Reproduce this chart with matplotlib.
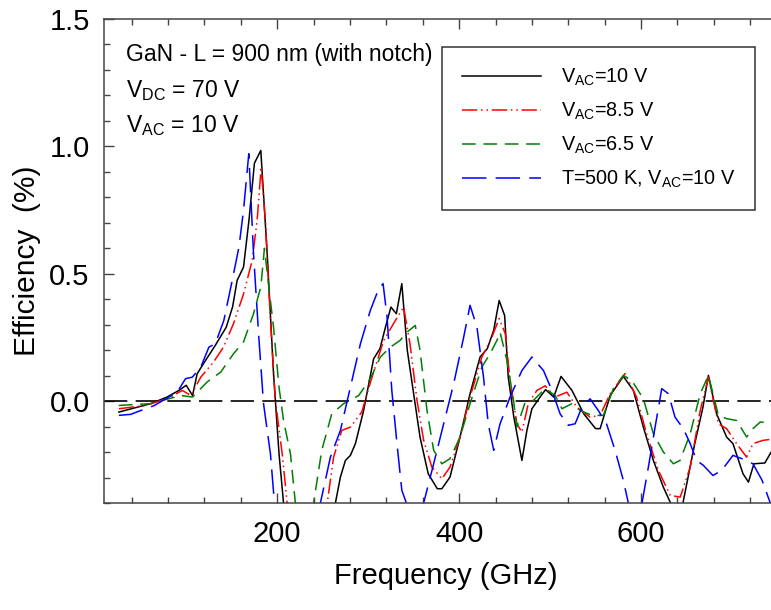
import matplotlib
matplotlib.use("Agg")
import matplotlib.pyplot as plt
from matplotlib.ticker import MultipleLocator

plt.rcParams['font.family'] = ['Liberation Sans', 'DejaVu Sans']
plt.rcParams['mathtext.fontset'] = 'custom'
plt.rcParams['mathtext.rm'] = 'Liberation Sans'
plt.rcParams['mathtext.default'] = 'regular'

# efficiency (%) vs frequency (GHz)
freq_black = [26, 61, 79, 92, 100, 107, 112, 119, 132, 144, 151, 156, 163, 169, 175, 182, 189, 196,
              202, 207, 235, 264, 269.5, 275, 280.5, 286, 295, 306, 313, 319, 325, 331, 337, 343,
              350, 357, 366, 376, 381, 390, 401, 412, 423, 431, 438, 444, 450, 454, 460, 469, 474.5,
              480, 489, 495, 504, 512, 524, 537, 550, 555, 566, 580.5, 591.5, 602.5, 613.5, 624.5,
              632, 639, 646, 659, 668, 674, 683, 694, 701, 712, 718, 724, 736, 743, 760]
eff_black = [-0.043, -0.01, 0.016, 0.042, 0.062, 0.022, 0.107, 0.147, 0.219, 0.29, 0.37, 0.474,
             0.526, 0.71, 0.934, 0.984, 0.58, 0.107, -0.205, -0.40, -0.95, -0.40, -0.298, -0.233,
             -0.213, -0.167, -0.037, 0.166, 0.206, 0.29, 0.369, 0.343, 0.461, 0.2, 0.029, -0.141,
             -0.285, -0.344, -0.344, -0.298, -0.141, 0.029, 0.173, 0.206, 0.278, 0.395, 0.336,
             0.094, -0.06, -0.233, -0.115, -0.03, 0.016, 0.045, 0.016, 0.097, 0.042, -0.05,
             -0.108, -0.108, 0.022, 0.097, 0.042, -0.102, -0.233, -0.338, -0.397, -0.45, -0.40,
             -0.167, -0.024, 0.101, -0.05, -0.141, -0.167, -0.285, -0.318, -0.246, -0.243, -0.2,
             -0.15]

freq_red = [26, 53.5, 79, 95.7, 105, 116, 130, 141, 152, 163, 172.5, 178, 182.4, 187, 192.6, 198,
            205.5, 211, 232, 255, 262, 271, 280.5, 293, 302, 317, 330, 339, 346, 353.7, 361, 370,
            381, 390, 401, 412, 425, 436, 444, 450.7, 456, 463.5, 469, 476, 485.5, 494.6, 505.6,
            518.4, 529.4, 544, 555, 566, 582.4, 595, 606, 619, 632, 643, 654, 665, 674, 685, 694,
            705, 716, 723, 734, 743, 760]
eff_red = [-0.03, -0.018, 0.009, 0.042, 0.022, 0.094, 0.153, 0.212, 0.304, 0.42, 0.552, 0.71,
           0.919, 0.71, 0.317, 0.003, -0.207, -0.4, -0.85, -0.4, -0.22, -0.115, -0.102, -0.043,
           0.068, 0.238, 0.317, 0.369, 0.225, 0.003, -0.154, -0.259, -0.305, -0.259, -0.141,
           0.016, 0.173, 0.251, 0.324, 0.265, 0.081, -0.089, -0.122, -0.01, 0.042, 0.06, 0.016,
           0.035, -0.024, -0.063, -0.056, 0.029, 0.108, 0.016, -0.128, -0.272, -0.37, -0.377,
           -0.259, -0.037, 0.094, -0.089, -0.108, -0.167, -0.22, -0.167, -0.154, -0.15, -0.14]

freq_green = [26, 61, 94, 107, 123, 138, 152, 163, 174, 182, 186, 190.8, 196, 202, 207, 214.6,
              220, 230, 240, 249, 260, 273, 289.6, 302.4, 313.4, 324.4, 335, 342.7, 351.8, 357,
              364.7, 372, 381, 390, 401, 412, 425, 434, 441.5, 445, 452.5, 459.8, 463.5, 472.6,
              481.7, 494.6, 505.6, 513, 524, 533, 546, 558.6, 569.6, 580.5, 589.8, 602.5, 613.5,
              624.5, 635.5, 642.8, 654, 665, 674, 685, 694, 705, 716, 723, 731, 743, 760]
eff_green = [-0.017, -0.01, 0.022, 0.016, 0.075, 0.114, 0.186, 0.232, 0.343, 0.448, 0.6, 0.448,
             0.29, 0.055, -0.076, -0.207, -0.4, -0.6, -0.4, -0.193, -0.05, -0.01, 0.022, 0.088,
             0.173, 0.212, 0.238, 0.271, 0.297, 0.2, -0.037, -0.193, -0.246, -0.226, -0.141,
             -0.01, 0.134, 0.186, 0.238, 0.27, 0.16, 0.003, -0.102, -0.004, 0.003, 0.049, 0.022,
             -0.03, -0.01, -0.037, -0.056, -0.056, 0.049, 0.101, 0.081, 0.009, -0.128, -0.2,
             -0.246, -0.233, -0.128, 0.029, 0.101, -0.056, -0.069, -0.076, -0.141, -0.108,
             -0.082, -0.085, -0.08]

freq_blue = [26, 39, 50, 64.5, 90, 99.3, 106.7, 116, 125, 132, 141.4, 150.6, 158, 163, 168.8,
             174, 179.8, 185, 192.6, 197, 220, 247.5, 258.5, 269.5, 280.5, 291.5, 302.4, 311.6,
             316.4, 320.8, 326, 331.7, 337, 342, 351, 361, 372, 383, 394, 405, 412, 419.6, 426.8,
             432, 438, 445, 456, 469, 480, 492.7, 502, 511, 520, 527.5, 535, 544, 553, 562,
             571.4, 580.5, 586, 593, 601, 608, 615.4, 622.7, 630, 637.3, 646.4, 654, 661, 668.4,
             679, 688.6, 701, 716, 723, 733, 742, 760]
eff_blue = [-0.056, -0.052, -0.037, -0.018, 0.035, 0.088, 0.094, 0.133, 0.212, 0.225, 0.317,
            0.474, 0.605, 0.749, 0.971, 0.579, 0.251, -0.01, -0.207, -0.4, -1.0, -0.4, -0.22,
            -0.115, 0.055, 0.225, 0.356, 0.441, 0.461, 0.33, 0.042, -0.167, -0.35, -0.4, -0.5,
            -0.4, -0.246, -0.089, 0.068, 0.251, 0.376, 0.29, 0.094, -0.089, -0.193, -0.089,
            0.016, 0.12, 0.173, 0.12, 0.042, -0.05, -0.095, -0.089, -0.024, 0.009, -0.037,
            -0.089, -0.193, -0.311, -0.4, -0.5, -0.4, -0.259, -0.102, 0.049, 0.029, -0.063,
            -0.108, -0.167, -0.233, -0.252, -0.292, -0.272, -0.213, -0.233, -0.246, -0.311,
            -0.4, -0.6]

labels = [r'V$_{AC}$=10 V', r'V$_{AC}$=8.5 V', r'V$_{AC}$=6.5 V', r'T=500 K, V$_{AC}$=10 V']

fig = plt.figure(figsize=(7.71, 6.10), dpi=100)
# axes run past the right edge of the picture, like the original crop
ax = fig.add_axes([0.1353, 0.1754, 0.885, 0.7935])

ax.axhline(0, color='black', lw=1.2, dashes=(14, 5))

ax.plot(freq_black, eff_black, color='black', lw=1.1, label=labels[0])
ax.plot(freq_red, eff_red, color='red', lw=1.1, dashes=(10, 2.5, 1, 2.5, 1, 2.5), label=labels[1])
ax.plot(freq_green, eff_green, color='green', lw=1.1, dashes=(9, 5), label=labels[2])
ax.plot(freq_blue, eff_blue, color='blue', lw=1.1, dashes=(16, 6), label=labels[3])

ax.set_xlim(10, 760)
ax.set_ylim(-0.4, 1.5)
ax.xaxis.set_major_locator(MultipleLocator(200))
ax.xaxis.set_minor_locator(MultipleLocator(40))
ax.yaxis.set_minor_locator(MultipleLocator(0.1))
ax.set_yticks([0.0, 0.5, 1.0, 1.5])
ax.set_yticklabels(['0.0', '0.5', '1.0', '1.5'])
ax.tick_params(which='both', direction='in', top=True, right=True, color='#444444',
               labelsize=21)
ax.tick_params(axis='x', pad=12)
ax.tick_params(axis='y', pad=10.5)
ax.tick_params(which='major', length=7, width=1)
ax.tick_params(which='minor', length=4, width=1)
for s in ax.spines.values():
    s.set_color('#444444')
    s.set_linewidth(1.1)

ax.set_xlabel('Frequency (GHz)', fontsize=21, labelpad=10)
ax.set_ylabel('Efficiency  (%)', fontsize=21.5, labelpad=6)

# annotation block, baselines placed in figure pixels
for txt, base in [('GaN - L = 900 nm (with notch)', 61),
                  (r'V$_{DC}$ = 70 V', 96.7),
                  (r'V$_{AC}$ = 10 V', 131.7)]:
    fig.text(126.5 / 771, 1 - base / 610, txt, fontsize=16.5, va='baseline', ha='left')

leg = ax.legend(loc='upper right', bbox_to_anchor=(755.3 / 771, 1 - 47.3 / 610),
                bbox_transform=fig.transFigure, fontsize=14.3, frameon=True, fancybox=False,
                handlelength=4.0, borderpad=1.0, labelspacing=0.63, handletextpad=1.0,
                borderaxespad=0)
leg.get_frame().set_edgecolor('black')
leg.get_frame().set_linewidth(1.1)

fig.savefig('out.png', dpi=100)
